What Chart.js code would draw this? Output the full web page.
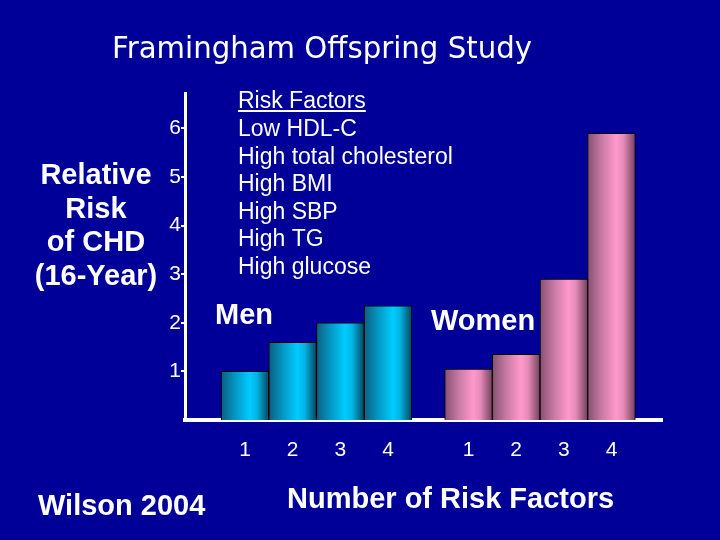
<!DOCTYPE html>
<html>
<head>
<meta charset="utf-8">
<script src="https://cdn.jsdelivr.net/npm/chart.js@4.4.1/dist/chart.umd.min.js"></script>
<style>
    html, body { margin: 0; padding: 0; background: #000099; }
    #wrap { position: relative; width: 720px; height: 540px; }
</style>
</head>
<body>
<div id="wrap"><canvas id="riskChart"></canvas></div>
<script>
// Dados
const riskCounts = [1, 2, 3, 4];
const riskCountLabels = ['1', '2', '3', '4'];
const menRisk = [1.0, 1.6, 2.0, 2.35];
const womenRisk = [1.05, 1.35, 2.9, 5.9];
const yTickValues = [1, 2, 3, 4, 5, 6];

const titleText = 'Framingham Offspring Study';
const riskFactorsHeader = 'Risk Factors';
const riskFactors = ['Low HDL-C', 'High total cholesterol', 'High BMI', 'High SBP', 'High TG', 'High glucose'];
const yTitleLines = ['Relative', 'Risk', 'of CHD', '(16-Year)'];
const xTitle = 'Number of Risk Factors';
const sourceText = 'Wilson 2004';

// deslocamento do grupo feminino no eixo x (em unidades de barra)
const womenOffset = 4.69;

const menPoints = riskCounts.map((n, i) => ({ x: n, y: menRisk[i] }));
const womenPoints = riskCounts.map((n, i) => ({ x: n + womenOffset, y: womenRisk[i] }));
const xTickPositions = menPoints.concat(womenPoints).map(p => p.x);

const FONT = '"Liberation Sans", Arial, sans-serif';

// gradiente horizontal "cilíndrico" para cada barra
function barGradient(stops) {
    return function(context) {
        const chart = context.chart;
        const xScale = chart.scales.x;
        if (!xScale || !context.parsed) return stops[2][1];
        const unit = Math.abs(xScale.getPixelForValue(1) - xScale.getPixelForValue(0));
        const cx = xScale.getPixelForValue(context.parsed.x);
        if (!isFinite(unit) || !isFinite(cx) || unit <= 0) return stops[2][1];
        const g = chart.ctx.createLinearGradient(cx - unit / 2, 0, cx + unit / 2, 0);
        stops.forEach(s => g.addColorStop(s[0], s[1]));
        return g;
    };
}

const menStops = [[0, '#0b5f7e'], [0.3, '#0598c4'], [0.6, '#00ccff'], [0.75, '#04b4e4'], [1, '#05465f']];
const womenStops = [[0, '#855070'], [0.3, '#c97ba5'], [0.6, '#ff99cc'], [0.75, '#e58bb8'], [1, '#72405e']];

const textPlugin = {
    id: 'slideText',
    afterDraw(chart) {
        const ctx = chart.ctx;
        ctx.save();
        ctx.fillStyle = '#ffffff';
        ctx.textBaseline = 'alphabetic';

        // título, ajustado à largura da figura
        ctx.font = '31px "DejaVu Sans", sans-serif';
        ctx.textAlign = 'left';
        const tw = ctx.measureText(titleText).width;
        ctx.save();
        ctx.translate(112, 58);
        ctx.scale(420 / tw, 1);
        ctx.fillText(titleText, 0, 0);
        ctx.restore();

        // lista de fatores de risco
        ctx.font = '23px ' + FONT;
        ctx.fillText(riskFactorsHeader, 238, 108);
        const hw = ctx.measureText(riskFactorsHeader).width;
        ctx.fillRect(238, 110, hw, 2);
        riskFactors.forEach((t, i) => ctx.fillText(t, 238, 136 + i * 27.5));

        // rótulos dos grupos e eixos
        ctx.font = 'bold 29px ' + FONT;
        ctx.fillText('Men', 215, 324);
        ctx.fillText('Women', 431, 330);
        ctx.fillText(sourceText, 38, 515);
        ctx.fillText(xTitle, 287, 508);

        ctx.textAlign = 'center';
        yTitleLines.forEach((t, i) => ctx.fillText(t, 96, 184 + i * 33.5));
        ctx.restore();
    }
};

const chartConfig = {
    type: 'bar',
    data: {
        datasets: [{
            label: 'Men',
            data: menPoints,
            grouped: false,
            backgroundColor: barGradient(menStops),
            borderColor: '#000000',
            borderWidth: 1,
            barPercentage: 1,
            categoryPercentage: 1
        }, {
            label: 'Women',
            data: womenPoints,
            grouped: false,
            backgroundColor: barGradient(womenStops),
            borderColor: '#000000',
            borderWidth: 1,
            barPercentage: 1,
            categoryPercentage: 1
        }]
    },
    options: {
        responsive: true,
        maintainAspectRatio: false,
        animation: false,
        layout: {
            padding: { left: 0, right: 58, top: 93, bottom: 0 }
        },
        scales: {
            x: {
                type: 'linear',
                min: -0.26,
                max: 9.75,
                offset: false,
                grid: { display: false, drawTicks: false },
                border: { display: true, color: '#ffffff', width: 4 },
                afterBuildTicks: function(scale) {
                    scale.ticks = xTickPositions.map(v => ({ value: v }));
                },
                afterFit: function(scale) { scale.height = 120; },
                ticks: {
                    color: '#ffffff',
                    font: { family: FONT, size: 21 },
                    padding: 18,
                    autoSkip: false,
                    maxRotation: 0,
                    callback: function(value, index) {
                        return riskCountLabels[index % riskCountLabels.length];
                    }
                }
            },
            y: {
                min: 0,
                max: 6.73,
                grid: {
                    display: true,
                    drawOnChartArea: false,
                    drawTicks: true,
                    tickLength: 4,
                    color: '#ffffff',
                    lineWidth: 2
                },
                border: { display: true, color: '#ffffff', width: 3 },
                afterBuildTicks: function(scale) {
                    scale.ticks = yTickValues.map(v => ({ value: v }));
                },
                afterFit: function(scale) { scale.width = 185; },
                ticks: {
                    color: '#ffffff',
                    font: { family: FONT, size: 21 },
                    padding: 0
                }
            }
        },
        plugins: {
            legend: { display: false },
            tooltip: { enabled: false },
            title: { display: false }
        }
    },
    plugins: [textPlugin]
};

new Chart(document.getElementById('riskChart'), chartConfig);
</script>
</body>
</html>
